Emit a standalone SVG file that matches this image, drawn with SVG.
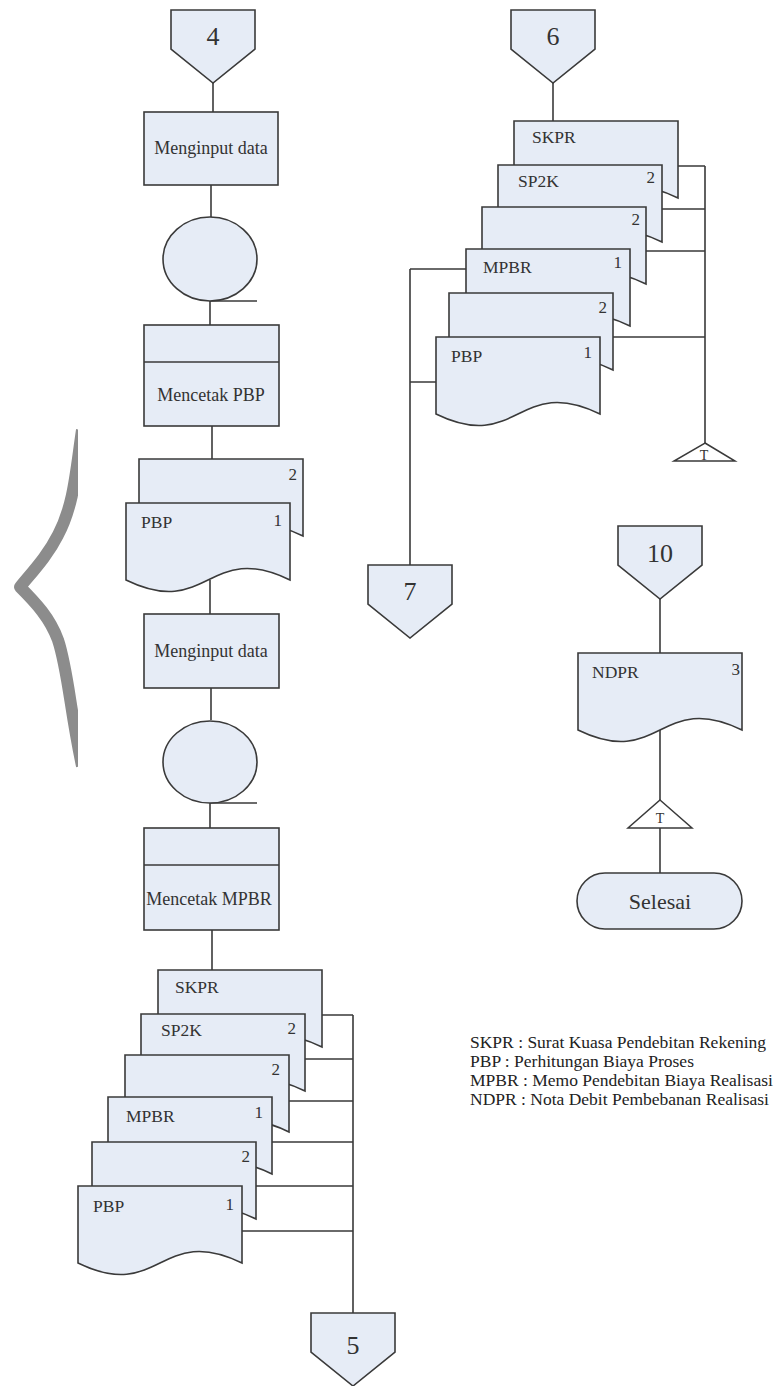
<svg xmlns="http://www.w3.org/2000/svg" xmlns:xlink="http://www.w3.org/1999/xlink" width="779" height="1386" viewBox="0 0 779 1386">
  <style>
    .shape { fill: #e6ecf6; stroke: #3a3a3a; stroke-width: 1.6; }
    .mark { fill: #ffffff; stroke: #3a3a3a; stroke-width: 1.5; }
    .wire { fill: none; stroke: #3a3a3a; stroke-width: 1.6; }
    text { font-family: "Liberation Serif", "Times New Roman", serif; fill: #333333; }
    .lbl { font-size: 18px; text-anchor: middle; }
    .doc { font-size: 17.5px; }
    .num { font-size: 17px; text-anchor: end; }
    .conn { font-size: 26px; text-anchor: middle; }
    .t { font-size: 14px; text-anchor: middle; }
    .legend { font-size: 17.5px; fill: #222222; }
  </style>
  <defs>
    <!-- document: flat top, wavy bottom edge -->
    <path id="doc" d="M0,0 H164 V77 C82,37 82,117 0,77 Z"/>
    <!-- off-page connector -->
    <path id="offpage" d="M0,0 H84 V39 L42,73 L0,39 Z"/>
    <clipPath id="braceClip"><rect x="0" y="420" width="78" height="360"/></clipPath>
  </defs>

  <rect width="779" height="1386" fill="#ffffff"/>

  <!-- grey brace at the left margin -->
  <path d="M82,430 C76,470 74,505 58,535 C48,555 34,570 20,587 C36,603 50,618 58,640 C68,670 70,710 82,766"
        fill="none" stroke="#8c8c8c" stroke-width="12" stroke-linejoin="round" clip-path="url(#braceClip)"/>

  <!-- connectors -->
  <g id="connectors">
    <!-- left column -->
    <path class="wire" d="M213,83 V112"/>
    <path class="wire" d="M211,185 V217"/>
    <path class="wire" d="M210,301 V325"/>
    <path class="wire" d="M210,301 H257"/>
    <path class="wire" d="M212,426 V459"/>
    <path class="wire" d="M210,580 V614"/>
    <path class="wire" d="M211,688 V720"/>
    <path class="wire" d="M210,803 V828"/>
    <path class="wire" d="M210,803 H257"/>
    <path class="wire" d="M212,930 V970"/>
    <!-- lower stack to connector 5 -->
    <path class="wire" d="M322,1015 H353 M305,1059 H353 M289,1101 H353 M272,1142 H353 M256,1186 H353 M242,1231 H353 M353,1015 V1313"/>
    <!-- upper right stack -->
    <path class="wire" d="M553,83 V121"/>
    <path class="wire" d="M678,166 H705 M661,209 H705 M645,251 H705 M613,337 H705 M705,166 V443"/>
    <path class="wire" d="M466,269 H410 M436,382 H410 M410,269 V565"/>
    <!-- right column -->
    <path class="wire" d="M660,599 V653"/>
    <path class="wire" d="M660,730 V800"/>
    <path class="wire" d="M660,828 V873"/>
  </g>

  <!-- left column -->
  <g id="conn4">
    <use href="#offpage" x="171" y="10" class="shape"/>
    <text class="conn" x="213" y="45">4</text>
  </g>
  <g id="input1">
    <rect class="shape" x="144" y="112" width="134" height="73"/>
    <text class="lbl" x="211" y="154">Menginput data</text>
  </g>
  <g id="disk1">
    <ellipse class="shape" cx="210" cy="259" rx="47" ry="42"/>
  </g>
  <g id="printPBP">
    <rect class="shape" x="144" y="325" width="135" height="101"/>
    <path class="wire" d="M144,362 H279"/>
    <text class="lbl" x="211" y="401">Mencetak PBP</text>
  </g>
  <g id="docPBP2">
    <use href="#doc" x="139" y="459" class="shape"/>
    <text class="num" x="297" y="480">2</text>
  </g>
  <g id="docPBP1">
    <use href="#doc" x="126" y="503" class="shape"/>
    <text class="doc" x="141" y="528">PBP</text>
    <text class="num" x="282" y="526">1</text>
  </g>
  <g id="input2">
    <rect class="shape" x="144" y="614" width="135" height="74"/>
    <text class="lbl" x="211" y="657">Menginput data</text>
  </g>
  <g id="disk2">
    <ellipse class="shape" cx="210" cy="762" rx="47" ry="41"/>
  </g>
  <g id="printMPBR">
    <rect class="shape" x="144" y="828" width="135" height="102"/>
    <path class="wire" d="M144,865 H279"/>
    <text class="lbl" x="209" y="905">Mencetak MPBR</text>
  </g>

  <!-- lower document stack -->
  <g id="lowSKPR">
    <use href="#doc" x="158" y="970" class="shape"/>
    <text class="doc" x="175" y="993">SKPR</text>
  </g>
  <g id="lowSP2K">
    <use href="#doc" x="141" y="1014" class="shape"/>
    <text class="doc" x="161" y="1036">SP2K</text>
    <text class="num" x="296" y="1034">2</text>
  </g>
  <g id="lowCopy2">
    <use href="#doc" x="125" y="1055" class="shape"/>
    <text class="num" x="280" y="1075">2</text>
  </g>
  <g id="lowMPBR">
    <use href="#doc" x="108" y="1097" class="shape"/>
    <text class="doc" x="126" y="1122">MPBR</text>
    <text class="num" x="263" y="1118">1</text>
  </g>
  <g id="lowPBP2">
    <use href="#doc" x="92" y="1142" class="shape"/>
    <text class="num" x="250" y="1162">2</text>
  </g>
  <g id="lowPBP1">
    <use href="#doc" x="78" y="1186" class="shape"/>
    <text class="doc" x="93" y="1212">PBP</text>
    <text class="num" x="234" y="1210">1</text>
  </g>
  <g id="conn5">
    <use href="#offpage" x="311" y="1313" class="shape"/>
    <text class="conn" x="353" y="1354">5</text>
  </g>

  <!-- upper right document stack -->
  <g id="conn6">
    <use href="#offpage" x="511" y="10" class="shape"/>
    <text class="conn" x="553" y="45">6</text>
  </g>
  <g id="upSKPR">
    <use href="#doc" x="514" y="121" class="shape"/>
    <text class="doc" x="532" y="143">SKPR</text>
  </g>
  <g id="upSP2K">
    <use href="#doc" x="498" y="165" class="shape"/>
    <text class="doc" x="518" y="187">SP2K</text>
    <text class="num" x="655" y="183">2</text>
  </g>
  <g id="upCopy2">
    <use href="#doc" x="482" y="207" class="shape"/>
    <text class="num" x="640" y="225">2</text>
  </g>
  <g id="upMPBR">
    <use href="#doc" x="466" y="249" class="shape"/>
    <text class="doc" x="483" y="273">MPBR</text>
    <text class="num" x="622" y="268">1</text>
  </g>
  <g id="upPBP2">
    <use href="#doc" x="449" y="293" class="shape"/>
    <text class="num" x="607" y="313">2</text>
  </g>
  <g id="upPBP1">
    <use href="#doc" x="436" y="337" class="shape"/>
    <text class="doc" x="451" y="362">PBP</text>
    <text class="num" x="592" y="358">1</text>
  </g>
  <g id="archiveT1">
    <path class="mark" d="M705,443 L735,461 L674,461 Z"/>
    <text class="t" x="704" y="460">T</text>
  </g>
  <g id="conn7">
    <use href="#offpage" x="368" y="565" class="shape"/>
    <text class="conn" x="410" y="600">7</text>
  </g>

  <!-- right column -->
  <g id="conn10">
    <use href="#offpage" x="618" y="526" class="shape"/>
    <text class="conn" x="660" y="562">10</text>
  </g>
  <g id="docNDPR">
    <use href="#doc" x="578" y="653" class="shape"/>
    <text class="doc" x="592" y="678">NDPR</text>
    <text class="num" x="740" y="675">3</text>
  </g>
  <g id="archiveT2">
    <path class="mark" d="M660,800 L692,828 L628,828 Z"/>
    <text class="t" x="660" y="823">T</text>
  </g>
  <g id="end">
    <rect class="shape" x="577" y="873" width="165" height="56" rx="28" ry="28"/>
    <text class="lbl" x="660" y="909" style="font-size:22px">Selesai</text>
  </g>

  <!-- abbreviations -->
  <g id="legend">
    <text class="legend" x="470" y="1048">SKPR : Surat Kuasa Pendebitan Rekening</text>
    <text class="legend" x="470" y="1067">PBP : Perhitungan Biaya Proses</text>
    <text class="legend" x="470" y="1086">MPBR : Memo Pendebitan Biaya Realisasi</text>
    <text class="legend" x="470" y="1105">NDPR : Nota Debit Pembebanan Realisasi</text>
  </g>
</svg>
